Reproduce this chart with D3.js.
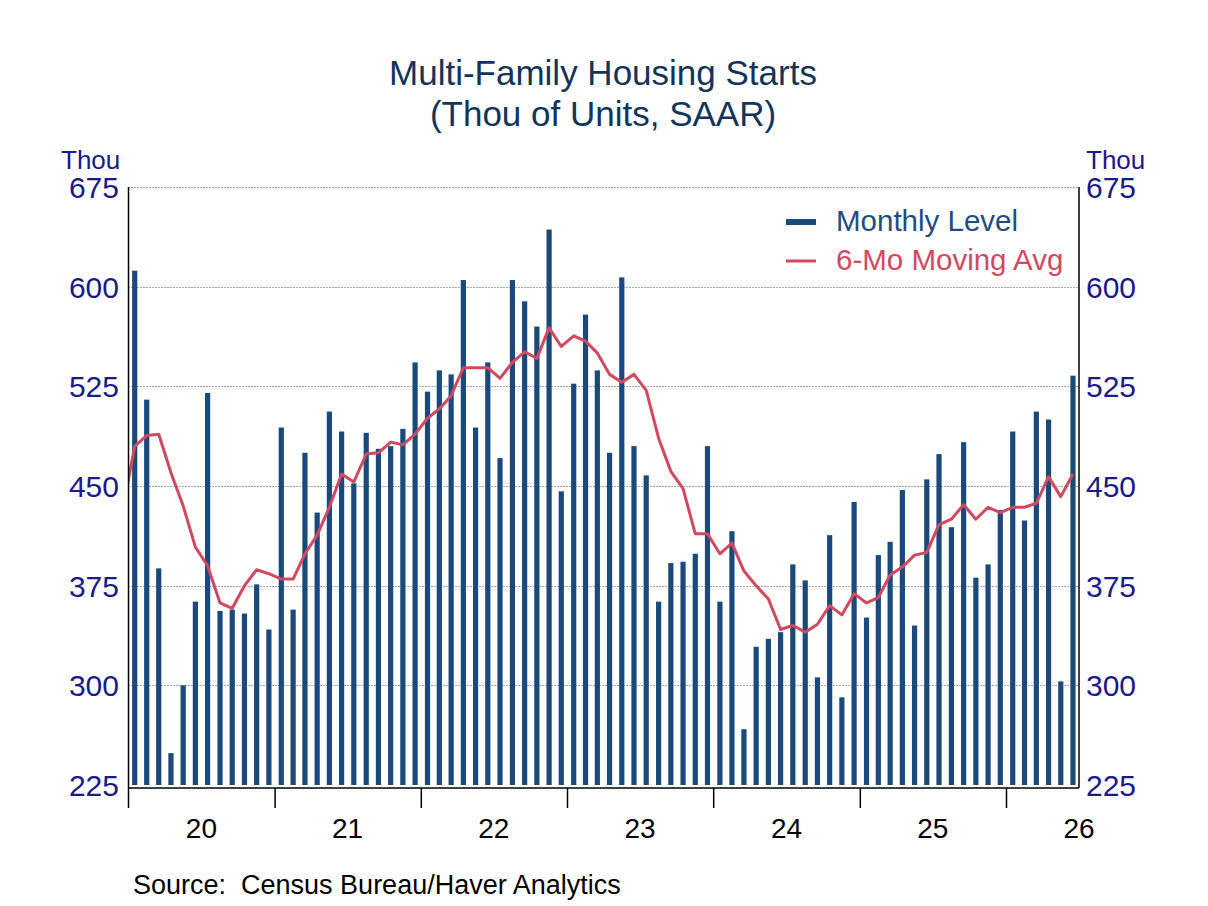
<!DOCTYPE html>
<html>
<head>
<meta charset="utf-8">
<script src="https://cdn.jsdelivr.net/npm/d3@7"></script>
<style>
  body { margin: 0; background: #fff; }
  text { font-family: "Liberation Sans", Arial, sans-serif; }
</style>
</head>
<body>
<div id="chart"></div>
<script>
// monthly level, Jan 2020 .. Jun 2026 (thou of units, SAAR)
var monthly = [
  612, 515, 388, 249, 300, 363, 520, 356, 357, 354, 376, 342,
  494, 357, 475, 430, 506, 491, 452, 490, 478, 480, 493, 543,
  521, 537, 534, 605, 494, 543, 471, 605, 589, 570, 643, 446,
  527, 579, 537, 475, 607, 480, 458, 363, 392, 393, 399, 480,
  363, 416, 267, 329, 335, 340, 391, 379, 306, 413, 291, 438,
  351, 398, 408, 447, 345, 455, 474, 419, 483, 381, 391, 432,
  491, 424, 506, 500, 303, 533
];
// 6-month moving average, Dec 2019 .. Jun 2026
var movingAvg = [
  430,
  480, 488, 489, 460, 435, 404, 390, 362, 358, 375, 387, 384,
  380, 380, 399, 413, 434, 459, 453, 474, 475, 483, 481, 489,
  501, 508, 518, 539, 539, 539, 531, 543, 551, 546, 569, 555,
  563, 559, 550, 534, 528, 534, 522, 486, 461, 448, 414, 414,
  399, 407, 386, 375, 365, 342, 345, 340, 346, 360, 353, 369,
  362, 366, 383, 389, 398, 400, 421, 425, 436, 425, 434, 430,
  434, 434, 437, 457, 442, 459
];
var yearLabels = ["20", "21", "22", "23", "24", "25", "26"];
var yTicks = [225, 300, 375, 450, 525, 600, 675];
var seriesNames = ["Monthly Level", "6-Mo Moving Avg"];

var W = 1208, H = 906;
var pLeft = 128.5, pRight = 1079, pTop = 187, pBottom = 785, axisY = 788;
var barColor = "#1a4a7b", lineColor = "#d2495f", navy = "#1a1a8c";

var svg = d3.select("#chart").append("svg")
  .attr("width", W).attr("height", H);

var months = d3.timeMonth.range(new Date(2020, 0, 1), new Date(2026, 6, 1));
var maMonths = d3.timeMonth.range(new Date(2019, 11, 1), new Date(2026, 6, 1));

var x = d3.scaleTime()
  .domain([new Date(2020, 0, 1), new Date(2026, 6, 1)])
  .range([pLeft, pRight]);
var y = d3.scaleLinear().domain([225, 675]).range([pBottom, pTop]);

function mid(m) { return (x(m) + x(d3.timeMonth.offset(m, 1))) / 2; }

// title
svg.append("text").attr("x", 603).attr("y", 85)
  .attr("text-anchor", "middle").attr("font-size", 35).attr("fill", "#12345a")
  .text("Multi-Family Housing Starts");
svg.append("text").attr("x", 603).attr("y", 126)
  .attr("text-anchor", "middle").attr("font-size", 35).attr("fill", "#12345a")
  .text("(Thou of Units, SAAR)");

// gridlines
svg.append("g").selectAll("line")
  .data(yTicks.filter(function(d) { return d > 225; }))
  .enter().append("line")
    .attr("x1", pLeft).attr("x2", pRight)
    .attr("y1", function(d) { return Math.round(y(d)) + 0.5; })
    .attr("y2", function(d) { return Math.round(y(d)) + 0.5; })
    .attr("stroke", "#3a4f86").attr("stroke-width", 1)
    .attr("stroke-dasharray", "1,2");

// y labels both sides
svg.append("g").selectAll("text").data(yTicks).enter().append("text")
  .attr("x", 119).attr("y", function(d) { return y(d) + 11; })
  .attr("text-anchor", "end").attr("font-size", 30).attr("fill", navy)
  .text(function(d) { return d; });
svg.append("g").selectAll("text").data(yTicks).enter().append("text")
  .attr("x", 1086).attr("y", function(d) { return y(d) + 11; })
  .attr("text-anchor", "start").attr("font-size", 30).attr("fill", navy)
  .text(function(d) { return d; });
svg.append("text").attr("x", 61).attr("y", 169).attr("font-size", 26)
  .attr("fill", navy).text("Thou");
svg.append("text").attr("x", 1086).attr("y", 169).attr("font-size", 26)
  .attr("fill", navy).text("Thou");

// bars
svg.append("g").selectAll("rect").data(monthly).enter().append("rect")
  .attr("x", function(d, i) { return mid(months[i]) - 2.6; })
  .attr("width", 5.2)
  .attr("y", function(d) { return y(d); })
  .attr("height", function(d) { return pBottom - y(d); })
  .attr("fill", barColor);

// moving average line (clipped to plot)
svg.append("clipPath").attr("id", "plot")
  .append("rect").attr("x", pLeft).attr("y", pTop - 5)
  .attr("width", pRight - pLeft).attr("height", pBottom - pTop + 5);
var line = d3.line()
  .x(function(d, i) { return mid(maMonths[i]); })
  .y(function(d) { return y(d); });
svg.append("path").datum(movingAvg)
  .attr("d", line).attr("fill", "none")
  .attr("stroke", lineColor).attr("stroke-width", 3)
  .attr("stroke-linejoin", "round")
  .attr("clip-path", "url(#plot)");

// axes frame
svg.append("line").attr("x1", pLeft).attr("x2", pLeft).attr("y1", pTop).attr("y2", 808)
  .attr("stroke", "#000").attr("stroke-width", 1.5);
svg.append("line").attr("x1", pRight).attr("x2", pRight).attr("y1", pTop).attr("y2", axisY)
  .attr("stroke", "#000").attr("stroke-width", 1.5);
svg.append("line").attr("x1", pLeft).attr("x2", pRight).attr("y1", axisY).attr("y2", axisY)
  .attr("stroke", "#000").attr("stroke-width", 1.5);

// x axis: year ticks and mid-year labels
var yearStarts = d3.timeYear.range(new Date(2021, 0, 1), new Date(2026, 1, 1));
svg.append("g").selectAll("line").data(yearStarts).enter().append("line")
  .attr("x1", function(d) { return x(d); }).attr("x2", function(d) { return x(d); })
  .attr("y1", axisY).attr("y2", 808)
  .attr("stroke", "#000").attr("stroke-width", 1.5);
svg.append("g").selectAll("text").data(yearLabels).enter().append("text")
  .attr("x", function(d, i) { return x(new Date(2020 + i, 6, 1)); })
  .attr("y", 838)
  .attr("text-anchor", "middle").attr("font-size", 28).attr("fill", "#000")
  .text(function(d) { return d; });

// legend
var legend = svg.append("g");
legend.append("line").attr("x1", 786).attr("x2", 816).attr("y1", 222).attr("y2", 222)
  .attr("stroke", barColor).attr("stroke-width", 6);
legend.append("line").attr("x1", 786).attr("x2", 816).attr("y1", 261).attr("y2", 261)
  .attr("stroke", lineColor).attr("stroke-width", 3);
legend.append("text").attr("x", 836).attr("y", 231).attr("font-size", 29.5)
  .attr("fill", "#1f4e7c").text(seriesNames[0]);
legend.append("text").attr("x", 836).attr("y", 270).attr("font-size", 29.5)
  .attr("fill", lineColor).text(seriesNames[1]);

// source
svg.append("text").attr("x", 133).attr("y", 894).attr("font-size", 27)
  .attr("fill", "#000").attr("xml:space", "preserve")
  .text("Source:  Census Bureau/Haver Analytics");
</script>
</body>
</html>
